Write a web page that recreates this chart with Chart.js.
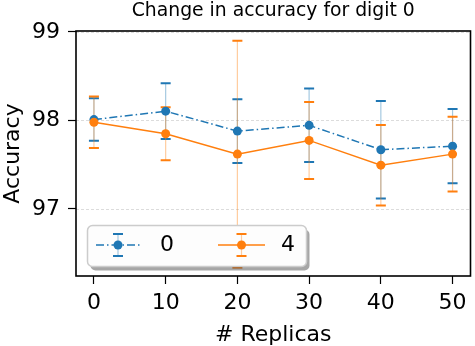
<!DOCTYPE html>
<html>
<head>
<meta charset="utf-8">
<script src="https://cdn.jsdelivr.net/npm/chart.js@4"></script>
<style>
  body { margin: 0; background: #fff; }
</style>
</head>
<body>
<canvas id="chart" width="475" height="346"></canvas>
<script>
const replicas = [0, 10, 20, 30, 40, 50];
const accDigit0 = [98.01, 98.105, 97.88, 97.945, 97.67, 97.71];
const errDigit0 = [0.24, 0.315, 0.36, 0.415, 0.55, 0.42];
const accDigit4 = [97.98, 97.85, 97.62, 97.775, 97.495, 97.62];
const errDigit4 = [0.29, 0.30, 1.28, 0.435, 0.455, 0.423];
const seriesNames = ["0", "4"];
const xTicks = [0, 10, 20, 30, 40, 50];
const yTicks = [97, 98, 99];
const titleText = "Change in accuracy for digit 0";

const BLUE = "#1f77b4";
const ORANGE = "#ff7f0e";
const FONT = "'DejaVu Sans', sans-serif";
Chart.defaults.font.family = FONT;
Chart.defaults.color = "#000";

function toPoints(ys) {
  return replicas.map((x, i) => ({ x: x, y: ys[i] }));
}

// grid lines + error bars under the lines, frame, title and legend on top
const errorBars = {
  id: "errorBars",
  beforeDatasetsDraw(chart) {
    const ctx = chart.ctx;
    const xs = chart.scales.x, ys = chart.scales.y;
    const area = chart.chartArea;
    ctx.save();
    ctx.strokeStyle = "#d3d3d3";
    ctx.lineWidth = 0.8;
    ctx.setLineDash([3, 2]);
    yTicks.forEach(v => {
      const y = Math.round(ys.getPixelForValue(v)) + 0.5;
      ctx.beginPath();
      ctx.moveTo(area.left, y);
      ctx.lineTo(area.right, y);
      ctx.stroke();
    });
    ctx.setLineDash([]);
    chart.data.datasets.forEach(ds => {
      ds.err.forEach((e, i) => {
        const x = xs.getPixelForValue(replicas[i]);
        const top = ys.getPixelForValue(ds.data[i].y + e);
        const bot = ys.getPixelForValue(ds.data[i].y - e);
        ctx.strokeStyle = ds.faint;
        ctx.lineWidth = 1.2;
        ctx.beginPath();
        ctx.moveTo(x, top);
        ctx.lineTo(x, bot);
        ctx.stroke();
        ctx.strokeStyle = ds.borderColor;
        ctx.lineWidth = 2;
        ctx.beginPath();
        ctx.moveTo(x - 5, top);
        ctx.lineTo(x + 5, top);
        ctx.moveTo(x - 5, bot);
        ctx.lineTo(x + 5, bot);
        ctx.stroke();
      });
    });
    ctx.restore();
  },
  afterDatasetsDraw(chart) {
    const ctx = chart.ctx;
    const a = chart.chartArea;
    ctx.save();
    ctx.strokeStyle = "#000";
    ctx.lineWidth = 1.6;
    ctx.strokeRect(a.left, a.top, a.right - a.left, a.bottom - a.top);
    ctx.restore();
  },
  afterDraw(chart) {
    const ctx = chart.ctx;
    const a = chart.chartArea;
    ctx.save();
    // title
    ctx.fillStyle = "#000";
    ctx.font = "18.8px " + FONT;
    ctx.textAlign = "center";
    ctx.textBaseline = "middle";
    ctx.fillText(titleText, (a.left + a.right) / 2, 11);

    // legend box with shadow
    const bx = 87.5, by = 225.5, bw = 219, bh = 41, r = 5;
    ctx.fillStyle = "rgba(0,0,0,0.35)";
    ctx.beginPath();
    ctx.roundRect(bx + 3, by + 4, bw, bh, r);
    ctx.fill();
    ctx.fillStyle = "#fdfdfd";
    ctx.strokeStyle = "#cccccc";
    ctx.lineWidth = 1.5;
    ctx.beginPath();
    ctx.roundRect(bx, by, bw, bh, r);
    ctx.fill();
    ctx.stroke();

    const cy = 245;
    const entries = [
      { x0: 96, x1: 140, tx: 160 },
      { x0: 218, x1: 265, tx: 281 }
    ];
    chart.data.datasets.forEach((ds, i) => {
      const en = entries[i];
      const cx = (en.x0 + en.x1) / 2;
      ctx.strokeStyle = ds.borderColor;
      ctx.lineWidth = 1.5;
      ctx.setLineDash(ds.borderDash || []);
      ctx.beginPath();
      ctx.moveTo(en.x0, cy);
      ctx.lineTo(en.x1, cy);
      ctx.stroke();
      ctx.setLineDash([]);
      ctx.strokeStyle = ds.faint;
      ctx.lineWidth = 1.2;
      ctx.beginPath();
      ctx.moveTo(cx, cy - 11);
      ctx.lineTo(cx, cy + 11);
      ctx.stroke();
      ctx.strokeStyle = ds.borderColor;
      ctx.lineWidth = 2;
      ctx.beginPath();
      ctx.moveTo(cx - 5, cy - 11);
      ctx.lineTo(cx + 5, cy - 11);
      ctx.moveTo(cx - 5, cy + 11);
      ctx.lineTo(cx + 5, cy + 11);
      ctx.stroke();
      ctx.fillStyle = ds.borderColor;
      ctx.beginPath();
      ctx.arc(cx, cy, 4.5, 0, Math.PI * 2);
      ctx.fill();
      ctx.fillStyle = "#000";
      ctx.font = "22px " + FONT;
      ctx.textAlign = "left";
      ctx.textBaseline = "middle";
      ctx.fillText(seriesNames[i], en.tx, cy);
    });
    ctx.restore();
  }
};

new Chart(document.getElementById("chart"), {
  type: "line",
  data: {
    datasets: [
      {
        label: seriesNames[0],
        data: toPoints(accDigit0),
        err: errDigit0,
        faint: "rgba(31,119,180,0.4)",
        borderColor: BLUE,
        backgroundColor: BLUE,
        borderWidth: 1.5,
        borderDash: [8, 3, 1.5, 3],
        pointRadius: 4.5,
        pointBorderWidth: 0,
        tension: 0,
        order: 1
      },
      {
        label: seriesNames[1],
        data: toPoints(accDigit4),
        err: errDigit4,
        faint: "rgba(255,127,14,0.4)",
        borderColor: ORANGE,
        backgroundColor: ORANGE,
        borderWidth: 1.5,
        pointRadius: 4.5,
        pointBorderWidth: 0,
        tension: 0,
        order: 0
      }
    ]
  },
  options: {
    responsive: false,
    animation: false,
    devicePixelRatio: 1,
    layout: { padding: { top: 31, right: 1, left: 0, bottom: 0 } },
    plugins: {
      legend: { display: false },
      tooltip: { enabled: false },
      title: { display: false }
    },
    scales: {
      x: {
        type: "linear",
        min: -2.5,
        max: 52.5,
        afterBuildTicks: s => { s.ticks = xTicks.map(v => ({ value: v })); },
        afterFit: s => { s.height = 70; },
        grid: { drawOnChartArea: false, drawTicks: true, tickLength: 8, tickColor: "#000", tickWidth: 1.2 },
        border: { display: false },
        ticks: { color: "#000", font: { size: 22 }, padding: 6, maxRotation: 0 },
        title: { display: true, text: "# Replicas", color: "#000", font: { size: 22 }, padding: { top: 0, bottom: -2 } }
      },
      y: {
        min: 96.243,
        max: 99.011,
        afterBuildTicks: s => { s.ticks = yTicks.map(v => ({ value: v })); },
        afterFit: s => { s.width = 76; },
        grid: { drawOnChartArea: false, drawTicks: true, tickLength: 8, tickColor: "#000", tickWidth: 1.2 },
        border: { display: false },
        ticks: { color: "#000", font: { size: 22 }, padding: 8 },
        title: { display: true, text: "Accuracy", color: "#000", font: { size: 22 }, padding: 0 }
      }
    }
  },
  plugins: [errorBars]
});
</script>
</body>
</html>
